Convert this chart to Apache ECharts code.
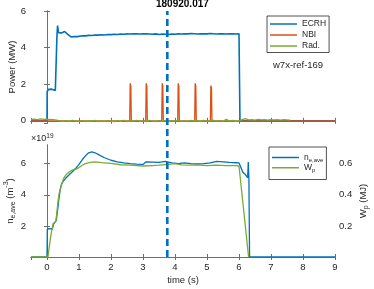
<!DOCTYPE html>
<html><head><meta charset="utf-8">
<script src="https://cdn.jsdelivr.net/npm/echarts@6/dist/echarts.min.js"></script>
<style>html,body{margin:0;padding:0;background:#fff}#c{width:374px;height:289px}</style>
</head><body><div id="c"></div>
<script>
// ---------- data ----------
const titleText = '180920.017';
const shotLabel = 'w7x-ref-169';
const cursorTime = 3.76;
const xTicks = [0,1,2,3,4,5,6,7,8,9];

// ECRH power (MW)
const ecrhT = [-0.5,0,0.005,0.05,0.1,0.15,0.2,0.26,0.29,0.31,0.33,0.36,0.4,0.45,0.5,0.55,0.6,0.65,0.7,0.75,0.8,0.85,0.9,0.95,
  1.0,1.1,1.2,1.3,1.4,1.5,1.6,1.7,1.8,1.9,2.0,2.1,2.2,2.3,2.4,2.5,2.6,2.7,2.8,2.9,3.0,3.1,3.2,3.3,3.4,3.5,3.6,3.7,3.8,3.9,
  4.0,4.1,4.2,4.3,4.4,4.5,4.6,4.7,4.8,4.9,5.0,5.1,5.2,5.3,5.4,5.5,5.6,5.7,5.8,5.9,6.0,6.02,6.03,9];
const ecrhV = [0,0,1.6,1.72,1.68,1.73,1.7,1.66,1.7,4.6,5.2,4.82,4.86,4.8,4.9,4.88,4.8,4.72,4.65,4.58,4.57,4.6,4.62,4.6,
  4.63,4.65,4.64,4.67,4.66,4.69,4.68,4.70,4.69,4.72,4.71,4.73,4.72,4.74,4.73,4.75,4.74,4.76,4.75,4.74,
  4.76,4.75,4.74,4.73,4.75,4.72,4.74,4.73,4.72,4.74,4.73,4.75,4.74,4.76,4.75,4.77,4.76,4.74,4.75,4.76,
  4.75,4.77,4.76,4.74,4.75,4.76,4.74,4.75,4.76,4.74,4.75,4.74,0,0];

// NBI power (MW)
const nbiT = [-0.5,2.585,2.6,2.62,2.635,3.085,3.1,3.12,3.135,3.585,3.6,3.62,3.635,4.085,4.1,4.12,4.135,4.615,4.63,4.65,4.665,5.105,5.12,5.14,5.155,9];
const nbiV = [0,0,2.05,1.9,0,0,2.05,1.9,0,0,2.05,1.9,0,0,2.05,1.9,0,0,2.05,1.9,0,0,1.92,1.8,0,0];

// Radiated power (MW), sampled every 0.1 s from -0.5 s
const radStart = -0.5, radStep = 0.1;
const radV = [0.08,0.09,0.07,0.1,0.08,
  0.09,0.07,0.06,0.04,
  0.0,-0.03,0.01,-0.04,0.02,-0.02,
  -0.03,0.01,-0.05,0.0,-0.02,0.02,-0.04,0.0,-0.03,0.01,
  -0.02,-0.05,0.01,-0.03,0.02,-0.04,0.0,-0.02,0.03,-0.03,
  0.0,-0.04,0.02,-0.02,-0.05,0.01,-0.03,0.02,-0.04,0.0,
  -0.02,0.03,-0.03,0.0,-0.05,0.02,-0.02,0.01,-0.04,0.02,
  -0.03,0.0,0.03,-0.02,0.01,-0.04,0.08,-0.02,0.02,-0.03,
  0.0,0.06,0.12,0.05,0.07,0.04,0.08,0.05,0.06,0.04,
  0.07,0.05,0.06,0.04,0.06,0.05,0.04];

// line-averaged density (1e19 m^-3)
const neT = [-0.5,0,0.01,0.08,0.14,0.17,0.2,0.25,0.29,0.33,0.37,0.41,0.45,0.5,0.6,0.7,0.8,0.9,1.0,1.1,1.2,1.3,1.4,1.5,1.6,1.7,1.8,1.9,2.0,2.2,2.4,2.6,2.8,3.0,3.05,3.1,3.3,3.5,3.6,3.7,3.8,3.9,4.0,4.1,4.15,4.3,4.5,4.7,4.9,5.1,5.3,5.5,5.7,5.9,6.0,6.05,6.12,6.2,6.27,6.29,6.31,6.33,9];
const neV = [0,0,1.8,1.82,1.72,1.8,2.1,2.2,2.35,3.0,3.7,4.3,4.65,4.85,5.1,5.3,5.5,5.7,5.95,6.25,6.5,6.7,6.76,6.7,6.6,6.48,6.38,6.3,6.22,6.12,6.05,6.0,5.97,5.95,6.0,6.12,6.1,6.08,6.12,6.15,6.1,6.05,6.03,6.0,6.1,6.05,6.0,5.98,6.0,6.05,6.15,6.12,6.08,6.06,6.05,5.8,5.45,5.3,5.1,6.1,5.0,0,0];

// diamagnetic energy (MJ)
const wpT = [-0.5,0.03,0.08,0.13,0.19,0.23,0.27,0.3,0.34,0.38,0.42,0.46,0.52,0.6,0.7,0.8,0.9,1.0,1.1,1.2,1.35,1.5,1.7,2.0,2.3,2.6,2.62,2.65,3.0,3.3,3.5,3.8,4.0,4.2,4.5,4.8,5.0,5.3,5.6,5.9,6.0,6.02,6.3];
const wpV = [0,0,0.08,0.15,0.215,0.22,0.225,0.27,0.35,0.41,0.44,0.47,0.505,0.53,0.548,0.56,0.565,0.575,0.59,0.6,0.608,0.612,0.607,0.602,0.593,0.59,0.6,0.588,0.585,0.588,0.59,0.595,0.6,0.592,0.59,0.59,0.588,0.59,0.588,0.587,0.585,0.58,0];

// ---------- build ----------
const zip = (t, v) => t.map((x, i) => [x, v[i]]);
const radData = radV.map((v, i) => [+(radStart + i * radStep).toFixed(2), v]);

const FONT = 'Liberation Sans, Arial, sans-serif';
const TXT = '#262626';
const AX = '#6e6e6e';
const C1 = '#0072BD', C2 = '#D95319', C3 = '#77AC30';

const L = 31, R = 39;
const gridBase = {left: L, right: R, containLabel: false, outerBoundsMode: 'none'};
const xBase = {min: -0.5, max: 9, minInterval: 1, maxInterval: 1, splitNumber: 9,
  axisLine: {lineStyle: {color: AX, width: 1}}, axisTick: {inside: true, length: 3, lineStyle: {color: AX}},
  splitLine: {show: false}, axisLabel: {show: false}};
const yLine = {nameMoveOverlap: false, axisLine: {show: true, lineStyle: {color: AX, width: 1}}, axisTick: {show: true, inside: true, length: 3, lineStyle: {color: AX}}, splitLine: {show: false}};
const lbl = {color: TXT, fontFamily: FONT, fontSize: 9.5};

const chart = echarts.init(document.getElementById('c'), null, {renderer: 'canvas'});
chart.setOption({
  animation: false,
  backgroundColor: '#fff',
  grid: [
    Object.assign({}, gridBase, {top: 11, height: 112}),
    Object.assign({}, gridBase, {top: 145, height: 112}),
    Object.assign({}, gridBase, {top: 11, height: 246})
  ],
  xAxis: [
    Object.assign({}, xBase, {gridIndex: 0, position: 'bottom'}),
    Object.assign({}, xBase, {gridIndex: 0, position: 'top'}),
    Object.assign({}, xBase, {gridIndex: 1, position: 'bottom', nameMoveOverlap: false,
      axisLabel: Object.assign({show: true, margin: 5, showMinLabel: false}, lbl),
      name: 'time (s)', nameLocation: 'middle', nameGap: 18, nameTextStyle: lbl}),
    Object.assign({}, xBase, {gridIndex: 1, position: 'top'}),
    {gridIndex: 2, type: 'value', min: -0.5, max: 9, show: false}
  ],
  yAxis: [
    Object.assign({}, yLine, {gridIndex: 0, position: 'left', min: -0.12, max: 6, minInterval: 2, maxInterval: 2, splitNumber: 3,
      axisLabel: Object.assign({margin: 5, showMinLabel: false}, lbl),
      name: 'Power (MW)', nameLocation: 'middle', nameGap: 14, nameRotate: 90, nameTextStyle: lbl}),
    Object.assign({}, yLine, {gridIndex: 0, position: 'right', min: -0.12, max: 6, minInterval: 2, maxInterval: 2, splitNumber: 3,
      axisLabel: {show: false}}),
    Object.assign({}, yLine, {gridIndex: 1, position: 'left', min: 0, max: 7.2, interval: 2,
      axisLabel: Object.assign({margin: 5, showMinLabel: false, showMaxLabel: false}, lbl),
      name: '{b|n}{s|e,ave}{b| (m}{p|-3}{b|)}', nameLocation: 'middle', nameGap: 14, nameRotate: 90,
      nameTextStyle: Object.assign({}, lbl, {rich: {
        b: {fontFamily: FONT, fontSize: 9.5, color: TXT, lineHeight: 14},
        s: {fontFamily: FONT, fontSize: 7, color: TXT, verticalAlign: 'bottom', lineHeight: 9},
        p: {fontFamily: FONT, fontSize: 7, color: TXT, verticalAlign: 'top', lineHeight: 9}}})}),
    Object.assign({}, yLine, {gridIndex: 1, position: 'right', min: 0, max: 0.72, interval: 0.2,
      axisLabel: Object.assign({margin: 4, showMinLabel: false, showMaxLabel: false}, lbl),
      name: '{b|W}{s|p}{b| (MJ)}', nameLocation: 'middle', nameGap: 21, nameRotate: 90,
      nameTextStyle: Object.assign({}, lbl, {rich: {
        b: {fontFamily: FONT, fontSize: 9.5, color: TXT, lineHeight: 14},
        s: {fontFamily: FONT, fontSize: 7, color: TXT, verticalAlign: 'bottom', lineHeight: 9}}})}),
    {gridIndex: 2, type: 'value', min: 0, max: 1, show: false}
  ],
  legend: [
    {data: ['ECRH', 'NBI', 'Rad.'], orient: 'vertical', left: 267, top: 16,
      icon: 'rect', itemWidth: 27, itemHeight: 1.5, itemGap: 0, padding: [2.5, 3, 1, 3],
      borderColor: '#262626', borderWidth: 0.8, backgroundColor: '#fff',
      textStyle: {fontFamily: FONT, fontSize: 8.5, color: TXT, lineHeight: 11}},
    {data: ['ne', 'Wp'], orient: 'vertical', left: 269, top: 147,
      icon: 'rect', itemWidth: 27, itemHeight: 1.5, itemGap: 0, padding: [6, 3, 6, 3],
      borderColor: '#262626', borderWidth: 0.8, backgroundColor: '#fff',
      formatter: n => n === 'ne' ? '{b|n}{s|e,ave}' : '{b|W}{s|p}',
      textStyle: {fontFamily: FONT, fontSize: 8.5, color: TXT, rich: {
        b: {fontFamily: FONT, fontSize: 8.5, color: TXT, lineHeight: 11.5},
        s: {fontFamily: FONT, fontSize: 6, color: TXT, verticalAlign: 'bottom', lineHeight: 7}}}}
  ],
  graphic: [
    {type: 'text', left: 156, top: -1, style: {text: titleText, font: 'bold 10px ' + FONT, fill: '#000'}},
    {type: 'text', left: 273, top: 60, style: {text: shotLabel, font: '9.5px ' + FONT, fill: TXT}},
    {type: 'text', left: 31, top: 133, style: {text: '{b|×10}{p|19}', rich: {
      b: {fontFamily: FONT, fontSize: 9, fill: TXT, lineHeight: 12},
      p: {fontFamily: FONT, fontSize: 6.5, fill: TXT, verticalAlign: 'top', lineHeight: 8}}}}
  ],
  series: [
    {name: 'ECRH', type: 'line', xAxisIndex: 0, yAxisIndex: 0, symbol: 'none', data: zip(ecrhT, ecrhV), lineStyle: {width: 1.6, color: C1}, itemStyle: {color: C1}},
    {name: 'NBI', type: 'line', xAxisIndex: 0, yAxisIndex: 0, symbol: 'none', data: zip(nbiT, nbiV), lineStyle: {width: 1.3, color: C2}, itemStyle: {color: C2}},
    {name: 'Rad.', type: 'line', xAxisIndex: 0, yAxisIndex: 0, symbol: 'none', data: radData, lineStyle: {width: 1.3, color: C3}, itemStyle: {color: C3}},
    {name: 'ne', type: 'line', xAxisIndex: 2, yAxisIndex: 2, symbol: 'none', data: zip(neT, neV), lineStyle: {width: 1.3, color: C1}, itemStyle: {color: C1}},
    {name: 'Wp', type: 'line', xAxisIndex: 2, yAxisIndex: 3, symbol: 'none', data: zip(wpT, wpV), lineStyle: {width: 1.3, color: C3}, itemStyle: {color: C3}},
    {name: 'cursor', type: 'line', xAxisIndex: 4, yAxisIndex: 4, symbol: 'none', silent: true, z: 5,
      data: [[cursorTime, 0], [cursorTime, 1]], lineStyle: {width: 2.6, color: C1, type: [7, 4]}}
  ]
});
</script></body></html>
